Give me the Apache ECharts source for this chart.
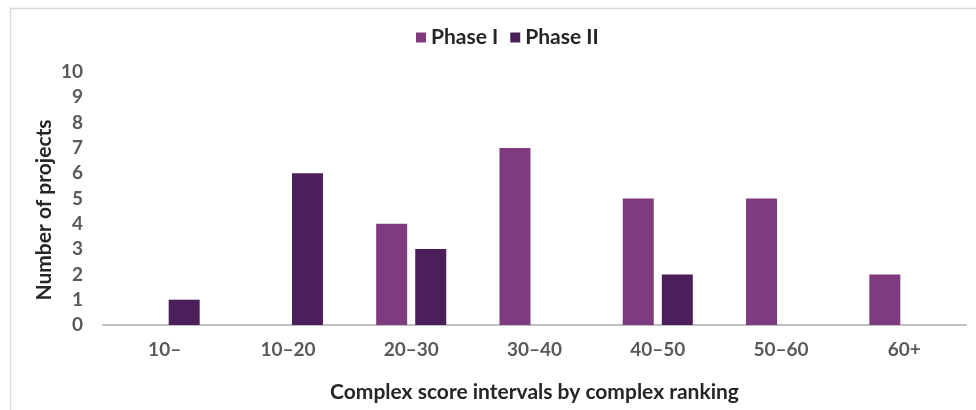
<!DOCTYPE html>
<html>
<head>
<meta charset="utf-8">
<script src="https://cdn.jsdelivr.net/npm/echarts@6/dist/echarts.min.js"></script>
<style>
  html, body { margin: 0; padding: 0; background: #fff; }
  #chart { width: 976px; height: 410px; }
</style>
</head>
<body>
<div id="chart"></div>
<script>
// Complex score intervals and project counts per phase
const categories = ['10–', '10–20', '20–30', '30–40', '40–50', '50–60', '60+'];
const phase1 = [0, 0, 4, 7, 5, 5, 2];
const phase2 = [1, 6, 3, 0, 2, 0, 0];
const seriesNames = ['Phase I', 'Phase II'];
const yTicks = { min: 0, max: 10, interval: 1 };

const FONT = 'Lato, "Open Sans", sans-serif';
const chart = echarts.init(document.getElementById('chart'), null, { renderer: 'canvas' });

chart.setOption({
  backgroundColor: '#ffffff',
  animation: false,
  legend: {
    top: 22,
    left: 411,
    itemWidth: 10,
    itemHeight: 10,
    itemGap: 12,
    icon: 'rect',
    textStyle: { fontFamily: FONT, fontSize: 21, fontWeight: 'bold', color: '#262626' },
    data: seriesNames
  },
  grid: { left: 103, right: 10, top: 72, bottom: 85 },
  xAxis: {
    type: 'category',
    data: categories,
    axisLine: { lineStyle: { color: '#bfbfbf', width: 2 } },
    axisTick: { show: false },
    axisLabel: { fontFamily: FONT, fontSize: 19, fontWeight: 'bold', color: '#595959', margin: 15 },
    name: 'Complex score intervals by complex ranking',
    nameLocation: 'middle',
    nameGap: 57,
    nameTextStyle: { fontFamily: FONT, fontSize: 21, fontWeight: 'bold', color: '#262626' }
  },
  yAxis: {
    type: 'value',
    min: yTicks.min,
    max: yTicks.max,
    interval: yTicks.interval,
    splitLine: { show: false },
    axisLine: { show: false },
    axisTick: { show: false },
    axisLabel: { fontFamily: FONT, fontSize: 19, fontWeight: 'bold', color: '#595959', margin: 20 }
  },
  series: [
    {
      name: seriesNames[0],
      type: 'bar',
      data: phase1,
      barWidth: 31,
      barGap: '26%',
      itemStyle: { color: '#7e3c7e' }
    },
    {
      name: seriesNames[1],
      type: 'bar',
      data: phase2,
      barWidth: 31,
      itemStyle: { color: '#4a1f5a' }
    }
  ],
  graphic: [
    {
      type: 'polyline',
      shape: { points: [[10.5, 410], [10.5, 8.5], [976, 8.5]] },
      style: { stroke: '#d9d9d9', lineWidth: 1.5, fill: null },
      silent: true
    },
    {
      type: 'text',
      x: 44,
      y: 210,
      rotation: Math.PI / 2,
      style: {
        text: 'Number of projects',
        fontFamily: FONT,
        fontSize: 21,
        fontWeight: 'bold',
        fill: '#262626',
        align: 'center',
        verticalAlign: 'middle'
      },
      silent: true
    }
  ]
});
</script>
</body>
</html>
